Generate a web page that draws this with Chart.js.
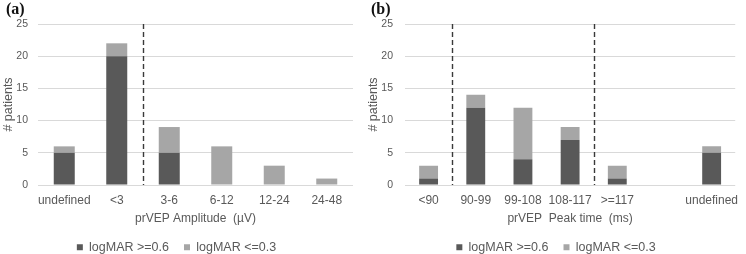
<!DOCTYPE html>
<html>
<head>
<meta charset="utf-8">
<script src="https://cdn.jsdelivr.net/npm/chart.js@4/dist/chart.umd.min.js"></script>
<style>
  html, body { margin: 0; padding: 0; background: #fff; }
  body { width: 746px; height: 254px; position: relative; overflow: hidden; }
  .panel { position: absolute; top: 0; height: 254px; }
  .tag { position: absolute; top: 0px; font-family: "Liberation Serif", "DejaVu Serif", serif; font-weight: bold; font-size: 16px; color: #111; z-index: 5; }
</style>
</head>
<body>
<div class="panel" style="left:0;width:366px"><canvas id="ca" width="366" height="254"></canvas></div>
<div class="panel" style="left:366px;width:380px"><canvas id="cb" width="380" height="254"></canvas></div>
<div class="tag" style="left:6px">(a)</div>
<div class="tag" style="left:371px">(b)</div>
<script>
// ---- data ----
const categoriesA = ["undefined", "<3", "3-6", "6-12", "12-24", "24-48"];
const highA = [5, 20, 5, 0, 0, 0];   // logMAR >=0.6
const lowA  = [1, 2, 4, 6, 3, 1];    // logMAR <=0.3
const dividersA = ["<3"];            // dashed line after this category

const categoriesB = ["<90", "90-99", "99-108", "108-117", ">=117", "", "undefined"];
const highB = [1, 12, 4, 7, 1, 0, 5];
const lowB  = [2, 2, 8, 2, 2, 0, 1];
const dividersB = ["<90", "108-117"];

const seriesNames = ["logMAR >=0.6", "logMAR <=0.3"];
const yTicks = [0, 5, 10, 15, 20, 25];
const titleA = "prVEP Amplitude  (\u00b5V)";
const titleB = "prVEP  Peak time  (ms)";

// ---- styles ----
const DARK = "#595959", LIGHT = "#a6a6a6", GRID = "#d9d9d9", TXT = "#595959";
const FONT = "'Liberation Sans', Arial, sans-serif";

const dividerPlugin = {
  id: "dividers",
  afterDatasetsDraw(chart, args, opts) {
    const xs = chart.scales.x, ys = chart.scales.y;
    const ctx = chart.ctx;
    ctx.save();
    ctx.strokeStyle = "#3a3a3a";
    ctx.lineWidth = 1.4;
    ctx.setLineDash([5, 3]);
    (opts.after || []).forEach(lbl => {
      const i = chart.data.labels.indexOf(lbl);
      if (i < 0) return;
      const x = Math.round((xs.getPixelForValue(i) + xs.getPixelForValue(i + 1)) / 2) + 0.5;
      ctx.beginPath();
      ctx.moveTo(x, ys.getPixelForValue(yTicks[yTicks.length - 1]));
      ctx.lineTo(x, ys.getPixelForValue(0));
      ctx.stroke();
    });
    ctx.restore();
  }
};

function makeChart(id, cats, high, low, dividers, xTitle, yAxisWidth, padRight, yTitlePad, yTickPad) {
  return new Chart(document.getElementById(id), {
    type: "bar",
    data: {
      labels: cats,
      datasets: [
        { label: seriesNames[0], data: high, backgroundColor: DARK, categoryPercentage: 0.4, barPercentage: 1 },
        { label: seriesNames[1], data: low, backgroundColor: LIGHT, categoryPercentage: 0.4, barPercentage: 1 }
      ]
    },
    options: {
      responsive: false,
      animation: false,
      layout: { padding: { top: 24, right: padRight, left: 0, bottom: 0 } },
      plugins: {
        tooltip: { enabled: false },
        dividers: { after: dividers },
        legend: {
          position: "bottom",
          maxHeight: 28,
          labels: {
            boxWidth: 6, boxHeight: 6, padding: 15,
            color: TXT, font: { family: FONT, size: 12.5 }
          }
        }
      },
      scales: {
        x: {
          stacked: true,
          grid: { display: false, drawTicks: false },
          border: { display: false },
          ticks: { color: TXT, font: { family: FONT, size: 12 }, padding: 8, maxRotation: 0, autoSkip: false },
          title: { display: true, text: xTitle, color: TXT, font: { family: FONT, size: 12 }, padding: { top: 2, bottom: 0 } },
          afterFit(s) { s.height = 41; }
        },
        y: {
          stacked: true,
          min: 0, max: yTicks[yTicks.length - 1],
          afterBuildTicks(s) { s.ticks = yTicks.map(v => ({ value: v })); },
          grid: { color: GRID, lineWidth: 1, drawTicks: false },
          border: { display: false },
          ticks: { color: TXT, font: { family: FONT, size: 10.5 }, padding: yTickPad },
          title: { display: true, text: "# patients", color: TXT, font: { family: FONT, size: 12.5 }, padding: { top: yTitlePad, bottom: 0 } },
          afterFit(s) { s.width = yAxisWidth; }
        }
      }
    },
    plugins: [dividerPlugin]
  });
}

makeChart("ca", categoriesA, highA, lowA, dividersA, titleA, 38, 13, 1, 10);
makeChart("cb", categoriesB, highB, lowB, dividersB, titleB, 39, 0, 0, 12);
</script>
</body>
</html>
